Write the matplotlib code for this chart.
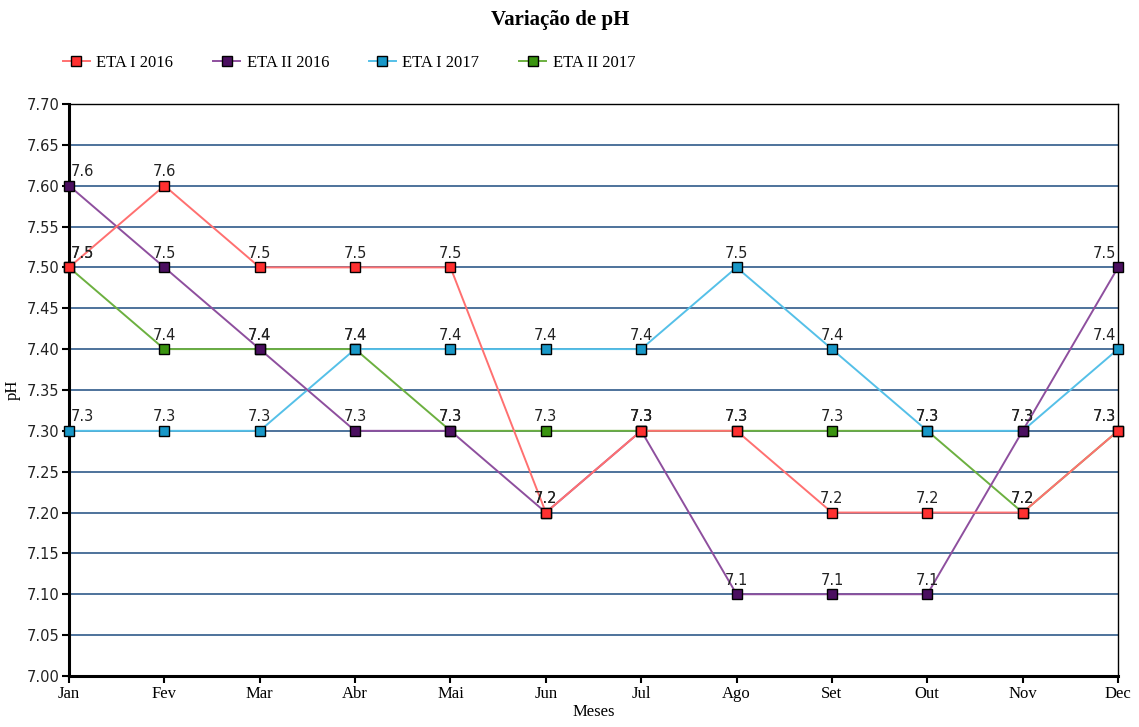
import matplotlib.pyplot as plt

# month labels and pH series
meses = ['Jan', 'Fev', 'Mar', 'Abr', 'Mai', 'Jun', 'Jul', 'Ago', 'Set', 'Out', 'Nov', 'Dec']
eta1_2016 = [7.5, 7.6, 7.5, 7.5, 7.5, 7.2, 7.3, 7.3, 7.2, 7.2, 7.2, 7.3]
eta2_2016 = [7.6, 7.5, 7.4, 7.3, 7.3, 7.2, 7.3, 7.1, 7.1, 7.1, 7.3, 7.5]
eta1_2017 = [7.3, 7.3, 7.3, 7.4, 7.4, 7.4, 7.4, 7.5, 7.4, 7.3, 7.3, 7.4]
eta2_2017 = [7.5, 7.4, 7.4, 7.4, 7.3, 7.3, 7.3, 7.3, 7.3, 7.3, 7.2, 7.3]

series = [
    ('ETA I 2016', eta1_2016, '#ff7070', '#ff3030'),
    ('ETA II 2016', eta2_2016, '#8e4f9e', '#4b0f60'),
    ('ETA I 2017', eta1_2017, '#55c0e8', '#1898c8'),
    ('ETA II 2017', eta2_2017, '#6cb040', '#3a9410'),
]

serif = 'Liberation Serif'
sans = 'DejaVu Sans'

fig = plt.figure(figsize=(11.39, 7.27), dpi=100)
ax = fig.add_axes([0.0606, 0.0702, 0.9210, 0.7868])

x = list(range(len(meses)))
handles = []
# draw in reverse so ETA I 2016 ends up on top
for i, (name, vals, lc, mc) in reversed(list(enumerate(series))):
    h, = ax.plot(x, vals, color=lc, lw=1.4, marker='s', ms=7.5,
                 mfc=mc, mec='black', mew=1.0, label=name, zorder=7 - i,
                 clip_on=False)
    handles.append(h)
    for xi, v in zip(x, vals):
        ha = 'center'
        dx = 0
        if xi == 0:
            ha, dx = 'left', 0.02
        elif xi == len(meses) - 1:
            ha, dx = 'right', -0.02
        ax.text(xi + dx, v + 0.008, f'{v:.1f}', ha=ha, va='bottom',
                fontsize=10.5, family=sans, color='#222222', zorder=10)

handles = handles[::-1]

ax.set_xlim(0, len(meses) - 1)
ax.set_ylim(7.0, 7.7)
ax.set_yticks([7.0 + 0.05 * k for k in range(15)])
ax.set_yticklabels([f'{7.0 + 0.05 * k:.2f}' for k in range(15)],
                   family=sans, fontsize=10.5, color='#222222')
ax.set_xticks(x)
ax.set_xticklabels(meses, family=serif, fontsize=12)
ax.yaxis.grid(True, color='#2f5a8a', lw=1.2)
ax.set_axisbelow(True)
ax.tick_params(axis='both', length=5, width=1.5, direction='out', pad=2)

for side in ['left', 'bottom']:
    ax.spines[side].set_linewidth(2.2)
for side in ['top', 'right']:
    ax.spines[side].set_linewidth(1.0)

ax.set_xlabel('Meses', family=serif, fontsize=12, labelpad=2)
ax.set_ylabel('pH', family=serif, fontsize=12, labelpad=4)

fig.text(0.492, 0.972, 'Variação de pH', ha='center', va='center',
         family=serif, fontsize=15, fontweight='bold')

fig.legend(handles=handles, loc='center left', bbox_to_anchor=(0.042, 0.914),
           ncol=4, frameon=False, prop={'family': serif, 'size': 12},
           handlelength=1.6, handletextpad=0.4, columnspacing=2.4)

fig.savefig('out.png', dpi=100)
